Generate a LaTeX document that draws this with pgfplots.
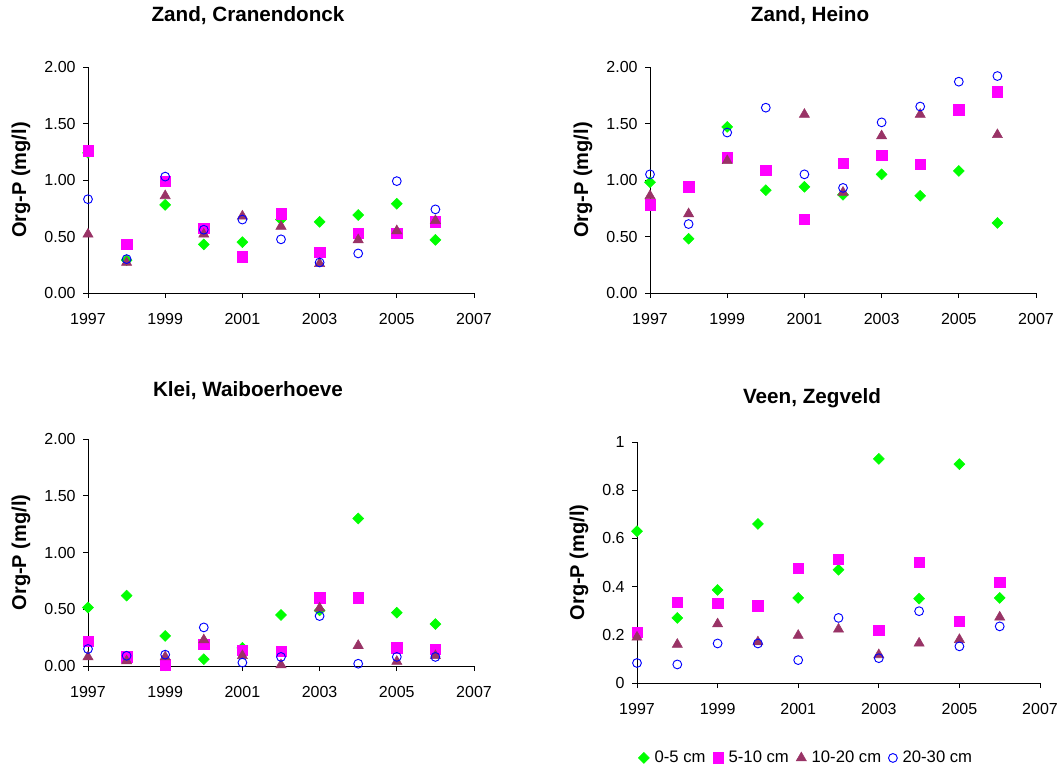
\documentclass[border=0pt]{standalone}
\usepackage{pgfplots}
\pgfplotsset{compat=1.18}
\usepackage{fontspec}
\setmainfont{Liberation Sans}
\definecolor{cgreen}{RGB}{0,255,0}
\definecolor{cmag}{RGB}{255,0,255}
\definecolor{cplum}{RGB}{153,51,102}
\definecolor{cblue}{RGB}{0,0,255}
\pgfplotsset{
  panel/.style={
    scale only axis,
    axis x line*=bottom, axis y line*=left,
    axis line style={-, line width=0.6pt},
    tick style={line width=0.6pt, black},
    tick align=outside, major tick length=3.75pt,
    xmin=1997, xmax=2007, xtick={1997,1999,...,2007},
    ymin=0, clip=false,
    ticklabel style={font=\fontsize{12}{14}\selectfont},
    /pgf/number format/1000 sep={},
    /pgf/number format/assume math mode=true,
    xticklabel shift=8pt, yticklabel shift=2pt,
    ylabel={Org-P (mg/l)},
    ylabel style={font=\fontsize{15}{18}\selectfont\bfseries, at={(axis description cs:-0.1736,0.5)}, anchor=center},
    legend image code/.code={\draw[##1] plot coordinates {(0pt,0pt)};},
  },
  twodig/.style={ymax=2, ytick={0,0.5,1,1.5,2},
    yticklabel style={/pgf/number format/fixed, /pgf/number format/fixed zerofill, /pgf/number format/precision=2}},
  sA/.style={only marks, mark=square*, mark size=2.9pt, mark options={rotate=45, fill=cgreen, draw=cgreen}},
  sB/.style={only marks, mark=square*, mark size=3.9pt, mark options={fill=cmag, draw=cmag}},
  sC/.style={only marks, mark=triangle*, mark size=4.4pt, mark options={fill=cplum, draw=cplum}},
  sD/.style={only marks, mark=o, mark size=3.3pt, mark options={draw=cblue, line width=0.7pt}},
}
\begin{document}
\begin{tikzpicture}
\path[use as bounding box] (0pt,0pt) rectangle (796.5pt,578.25pt);
\node[anchor=base, font=\fontsize{15.5}{18}\selectfont\bfseries] at (186pt,561.75pt) {Zand, Cranendonck};
\node[anchor=base, font=\fontsize{15.5}{18}\selectfont\bfseries] at (607.5pt,561.75pt) {Zand, Heino};
\node[anchor=base, font=\fontsize{15.5}{18}\selectfont\bfseries] at (186pt,280.7pt) {Klei, Waiboerhoeve};
\node[anchor=base, font=\fontsize{15.5}{18}\selectfont\bfseries] at (609pt,275.75pt) {Veen, Zegveld};

% Panel 1
\begin{axis}[panel, twodig, at={(66pt,358.5pt)}, anchor=south west, width=289.5pt, height=169.5pt]
\addplot[sA] coordinates {(1997,1.24) (1998,0.29) (1999,0.78) (2000,0.43) (2001,0.45) (2002,0.65) (2003,0.63) (2004,0.69) (2005,0.79) (2006,0.47)};
\addplot[sB] coordinates {(1997,1.26) (1998,0.43) (1999,0.99) (2000,0.575) (2001,0.32) (2002,0.70) (2003,0.36) (2004,0.53) (2005,0.53) (2006,0.63)};
\addplot[sC] coordinates {(1997,0.52) (1998,0.27) (1999,0.86) (2000,0.52) (2001,0.68) (2002,0.59) (2003,0.26) (2004,0.47) (2005,0.55) (2006,0.64)};
\addplot[sD] coordinates {(1997,0.83) (1998,0.30) (1999,1.03) (2000,0.56) (2001,0.65) (2002,0.475) (2003,0.27) (2004,0.35) (2005,0.99) (2006,0.74)};
\end{axis}

% Panel 2
\begin{axis}[panel, twodig, at={(487.5pt,358.5pt)}, anchor=south west, width=289.5pt, height=169.5pt]
\addplot[sA] coordinates {(1997,0.98) (1998,0.48) (1999,1.47) (2000,0.91) (2001,0.94) (2002,0.87) (2003,1.05) (2004,0.86) (2005,1.08) (2006,0.62)};
\addplot[sB] coordinates {(1997,0.78) (1998,0.94) (1999,1.20) (2000,1.085) (2001,0.65) (2002,1.15) (2003,1.22) (2004,1.14) (2005,1.62) (2006,1.78)};
\addplot[sC] coordinates {(1997,0.86) (1998,0.70) (1999,1.17) (2001,1.58) (2002,0.89) (2003,1.39) (2004,1.58) (2006,1.40)};
\addplot[sD] coordinates {(1997,1.05) (1998,0.61) (1999,1.42) (2000,1.64) (2001,1.05) (2002,0.93) (2003,1.51) (2004,1.65) (2005,1.87) (2006,1.92)};
\end{axis}

% Panel 3
\begin{axis}[panel, twodig, at={(66pt,78.75pt)}, anchor=south west, width=289.5pt, height=170.25pt]
\addplot[sA] coordinates {(1997,0.515) (1998,0.62) (1999,0.265) (2000,0.06) (2001,0.16) (2002,0.45) (2003,0.49) (2004,1.30) (2005,0.47) (2006,0.37)};
\addplot[sB] coordinates {(1997,0.22) (1998,0.08) (1999,0.01) (2000,0.19) (2001,0.14) (2002,0.13) (2003,0.60) (2004,0.60) (2005,0.16) (2006,0.15)};
\addplot[sC] coordinates {(1997,0.08) (1998,0.045) (1999,0.08) (2000,0.23) (2001,0.09) (2002,0.01) (2003,0.51) (2004,0.18) (2005,0.04) (2006,0.09)};
\addplot[sD] coordinates {(1997,0.15) (1998,0.09) (1999,0.10) (2000,0.34) (2001,0.03) (2002,0.08) (2003,0.44) (2004,0.02) (2005,0.08) (2006,0.08)};
\end{axis}

% Panel 4
\begin{axis}[panel, at={(477.75pt,66pt)}, anchor=south west, width=302.25pt, height=180.75pt,
  ymax=1, ytick={0,0.2,0.4,0.6,0.8,1},
  yticklabel style={/pgf/number format/fixed, /pgf/number format/precision=1},
  ylabel style={at={(axis description cs:-0.144,0.5)}},
  legend columns=4,
  legend style={draw=none, fill=none, at={(axis description cs:0.42,-0.311)}, anchor=center,
    font=\fontsize{12.5}{15}\selectfont, inner sep=0pt,
    nodes={inner sep=1.5pt},
    /tikz/every even column/.append style={column sep=4pt},
    /tikz/every odd column/.append style={column sep=2.5pt}},
  legend cell align=left]
\addplot[sA] coordinates {(1997,0.63) (1998,0.27) (1999,0.386) (2000,0.66) (2001,0.353) (2002,0.47) (2003,0.93) (2004,0.35) (2005,0.908) (2006,0.353)};
\addlegendentry{0-5 cm}
\addplot[sB] coordinates {(1997,0.21) (1998,0.335) (1999,0.33) (2000,0.32) (2001,0.475) (2002,0.513) (2003,0.218) (2004,0.50) (2005,0.255) (2006,0.417)};
\addlegendentry{5-10 cm}
\addplot[sC] coordinates {(1997,0.19) (1998,0.16) (1999,0.245) (2000,0.17) (2001,0.197) (2002,0.223) (2003,0.117) (2004,0.165) (2005,0.18) (2006,0.273)};
\addlegendentry{10-20 cm}
\addplot[sD] coordinates {(1997,0.083) (1998,0.077) (1999,0.164) (2000,0.164) (2001,0.095) (2002,0.27) (2003,0.103) (2004,0.298) (2005,0.152) (2006,0.235)};
\addlegendentry{20-30 cm}
\end{axis}
\end{tikzpicture}
\end{document}
